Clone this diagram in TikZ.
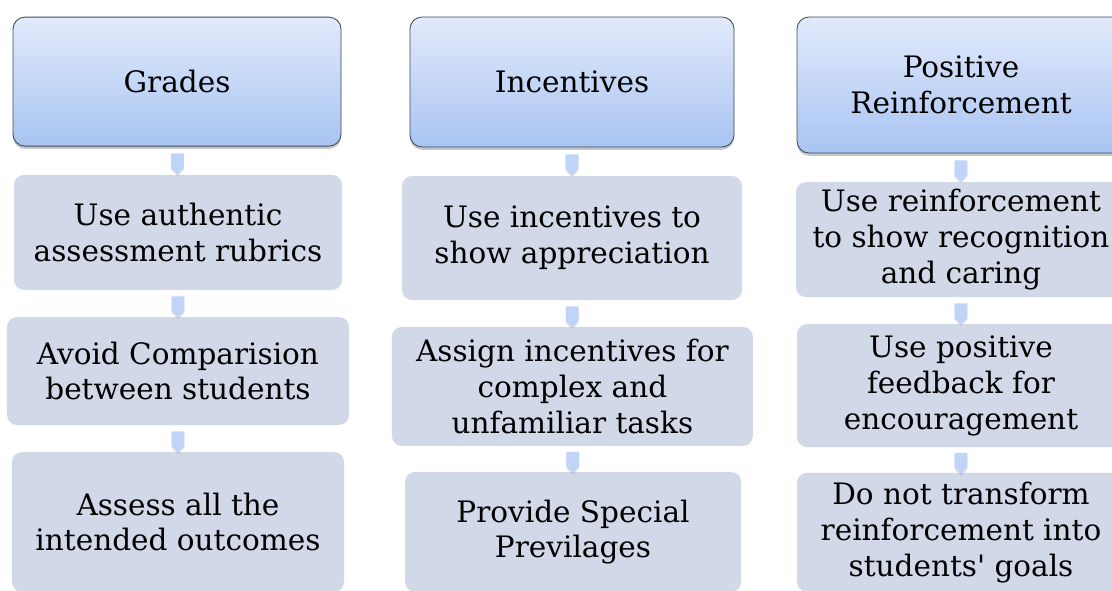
\documentclass[tikz,border=0pt]{standalone}
\usepackage{fontspec}
\setmainfont{DejaVu Serif}
\usetikzlibrary{shapes.symbols, shadows, positioning}
\definecolor{headtop}{RGB}{226,234,251}
\definecolor{headbot}{RGB}{168,196,242}
\definecolor{headline}{RGB}{62,72,88}
\definecolor{itemfill}{RGB}{209,217,233}
\definecolor{linkblue}{RGB}{192,211,248}

\begin{document}
\begin{tikzpicture}[
    head/.style={draw=headline, line width=0.6pt, rounded corners=0.3cm, top color=headtop, bottom color=headbot, drop shadow={opacity=0.45, shadow xshift=0pt, shadow yshift=-0.07cm}, align=center},
    item/.style={fill=itemfill, rounded corners=0.25cm, align=center},
    link/.style={signal, signal to=south, fill=linkblue, draw=none, minimum width=0.32cm, minimum height=0.36cm, inner sep=0pt, drop shadow={opacity=0.25, shadow xshift=0pt, shadow yshift=-0.05cm}},
    font=\fontsize{21}{25.5}\selectfont]
    \useasboundingbox (0,0) rectangle (27.8,-14.75);
    \clip (0,0) rectangle (27.8,-14.75);

    % Grades
    \node[head, minimum width=8.2cm, minimum height=3.225cm] (grades) at (4.425,-2.04) {Grades};
    \node[item, minimum width=8.2cm, minimum height=2.875cm] (rubrics) at (4.45,-5.81) {Use authentic\\assessment rubrics};
    \node[item, minimum width=8.55cm, minimum height=2.7cm] (compare) at (4.45,-9.275) {Avoid Comparision\\between students};
    \node[item, minimum width=8.3cm, minimum height=3.5cm] (outcomes) at (4.45,-13.05) {Assess all the\\intended outcomes};

    % Incentives
    \node[head, minimum width=8.1cm, minimum height=3.25cm] (incent) at (14.3,-2.05) {Incentives};
    \node[item, minimum width=8.5cm, minimum height=3.1cm] (apprec) at (14.3,-5.95) {Use incentives to\\show appreciation};
    \node[item, minimum width=9.025cm, minimum height=2.975cm] (complex) at (14.31,-9.66) {Assign incentives for\\complex and\\unfamiliar tasks};
    \node[item, minimum width=8.4cm, minimum height=3cm] (privil) at (14.325,-13.3) {Provide Special\\Previlages};

    % Positive Reinforcement
    \node[head, minimum width=8.2cm, minimum height=3.4cm] (reinf) at (24.025,-2.125) {Positive\\Reinforcement};
    \node[item, minimum width=8.25cm, minimum height=2.875cm] (recog) at (24.025,-5.99) {Use reinforcement\\to show recognition\\and caring};
    \node[item, minimum width=8.2cm, minimum height=3.075cm] (feedback) at (24.025,-9.64) {Use positive\\feedback for\\encouragement};
    \node[item, minimum width=8.2cm, minimum height=2.975cm] (goals) at (24.025,-13.31) {Do not transform\\reinforcement into\\students\textquotesingle{} goals};

    \path (grades) -- node[link] {} (rubrics);
    \path (rubrics) -- node[link] {} (compare);
    \path (compare) -- node[link] {} (outcomes);
    \path (incent) -- node[link] {} (apprec);
    \path (apprec) -- node[link] {} (complex);
    \path (complex) -- node[link] {} (privil);
    \path (reinf) -- node[link] {} (recog);
    \path (recog) -- node[link] {} (feedback);
    \path (feedback) -- node[link] {} (goals);
\end{tikzpicture}
\end{document}
